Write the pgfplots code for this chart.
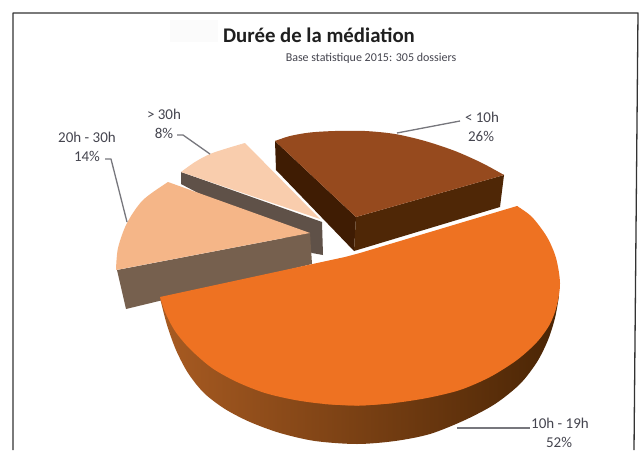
\documentclass[border=0pt]{standalone}
\usepackage{fontspec}
\setmainfont{Carlito}
\usepackage{pgfplots}
\pgfplotsset{compat=1.18}
\definecolor{cOrange}{HTML}{EE7222}
\definecolor{cBrown}{HTML}{964A1E}
\definecolor{cDarkL}{HTML}{3F1C03}
\definecolor{cDarkR}{HTML}{4F2706}
\definecolor{cSalmon}{HTML}{F5B688}
\definecolor{cSalSide}{HTML}{76604E}
\definecolor{cLight}{HTML}{F9CDAD}
\definecolor{cLightSide}{HTML}{5F5148}
\definecolor{cLead}{HTML}{77777D}
\definecolor{cLab}{HTML}{45454F}
\definecolor{cSideL}{HTML}{A85B22}
\definecolor{cSideM}{HTML}{5E2E0B}
\definecolor{cSideR}{HTML}{4A2505}
\begin{document}
\begin{tikzpicture}
\begin{axis}[
  scale only axis, width=640pt, height=450pt,
  xmin=0, xmax=640, ymin=0, ymax=450, y dir=reverse,
  axis lines=none, ticks=none, clip=true,
  every axis plot/.append style={no markers, line join=round},
]
% background
\addplot[fill=white, draw=none] coordinates {(0,0)(640,0)(640,450)(0,450)} --cycle;
\addplot[fill=black!1.5, draw=none] coordinates {(170,20)(218,20)(218,42)(170,42)} --cycle;
% frame
\addplot[draw=black!80, line width=1.3pt] coordinates {(13,450)(13,13)(638,13)(634,450)};
% > 30h
\addplot[fill=cLightSide, draw=none] coordinates {(181,172)(322,222)(323,255)(312,253)(181,184)} --cycle;
\addplot[fill=cLight, draw=none, smooth] coordinates {(181,172)(195,162)(210,154)(228,148)(245,143)};
\addplot[fill=cLight, draw=none] coordinates {(181,172)(210,157)(245,143)(320,219)} --cycle;
% 20h - 30h
\addplot[fill=cSalSide, draw=none] coordinates {(117,270)(310,233)(312,264)(126,309)} --cycle;
\addplot[fill=cSalmon, draw=none, smooth] coordinates {(168,182)(143,200)(127,223)(118,248)(116,270)};
\addplot[fill=cSalmon, draw=none] coordinates {(168,182)(131,225)(116,270)(310,233)} --cycle;
% < 10h
\addplot[fill=cDarkL, draw=none] coordinates {(275,141)(356,217)(354,251)(276,170)} --cycle;
\addplot[fill=cDarkR, draw=none] coordinates {(356,217)(504,175)(500,207)(354,251)} --cycle;
\addplot[fill=cBrown, draw=none, smooth] coordinates {(275,141)(290,136)(310,132.5)(335,131)(365,131)(395,134)(425,141)(455,151)(482,163)(504,175)};
\addplot[fill=cBrown, draw=none] coordinates {(275,141)(335,135)(425,146)(504,175)(356,217)} --cycle;
% 10h - 19h side
\addplot[left color=cSideL, middle color=cSideM, right color=cSideR, draw=none, smooth] coordinates {
 (160,298)(167,325)(176,350)(188,373)(204,393)(225,409)(250,422)(280,433)(315,441)(357,444)(395,441)(430,434)(465,420)(495,404)(520,384)(537,362)(548,340)(555,318)(559,296)};
% 10h - 19h top
\addplot[fill=cOrange, draw=none, smooth] coordinates {
 (160,297)(165,312)(175,331)(190,349)(212,368)(237,382)(265,393)(295,400)(325,404)(359,405.5)(394,403)};
\addplot[fill=cOrange, draw=none, smooth] coordinates {
 (325,404)(359,405.5)(394,403)(427,398)(460,390)(490,377)(517,360)(537,342)(550,324)(557,305)(560,283)(556,258)(547,237)(532,217)(517,206)};
\addplot[fill=cOrange, draw=none] coordinates {(160,297)(190,346)(265,390)(359,402)(460,387)(537,339)(556,283)(532,220)(517,206)(360,253)(345,257)} --cycle;
% leaders
\addplot[draw=cLead, line width=1.3pt] coordinates {(397,133)(460,121)};
\addplot[draw=cLead, line width=1.3pt] coordinates {(177,135)(183,135)(210,154)};
\addplot[draw=cLead, line width=1.3pt] coordinates {(105,159)(111,159)(127,222)};
\addplot[draw=cLead, line width=1.3pt] coordinates {(457,428)(530,428)};
% texts
\node[text=black!88, font=\fontsize{20.8}{22}\selectfont\bfseries] at (axis cs:319,35) {Durée de la médiation};
\node[text=cLab, font=\fontsize{12}{14}\selectfont] at (axis cs:371,58) {Base statistique 2015: 305 dossiers};
\node[text=cLab, font=\fontsize{15}{16}\selectfont] at (axis cs:482,117) {< 10h};
\node[text=cLab, font=\fontsize{15}{16}\selectfont] at (axis cs:481,136) {26\%};
\node[text=cLab, font=\fontsize{15}{16}\selectfont] at (axis cs:164,114) {> 30h};
\node[text=cLab, font=\fontsize{15}{16}\selectfont] at (axis cs:164,133) {8\%};
\node[text=cLab, font=\fontsize{15}{16}\selectfont] at (axis cs:87,137) {20h - 30h};
\node[text=cLab, font=\fontsize{15}{16}\selectfont] at (axis cs:87,156) {14\%};
\node[text=cLab, font=\fontsize{15}{16}\selectfont] at (axis cs:560,423) {10h - 19h};
\node[text=cLab, font=\fontsize{15}{16}\selectfont] at (axis cs:559,442) {52\%};
\end{axis}
\end{tikzpicture}
\end{document}
